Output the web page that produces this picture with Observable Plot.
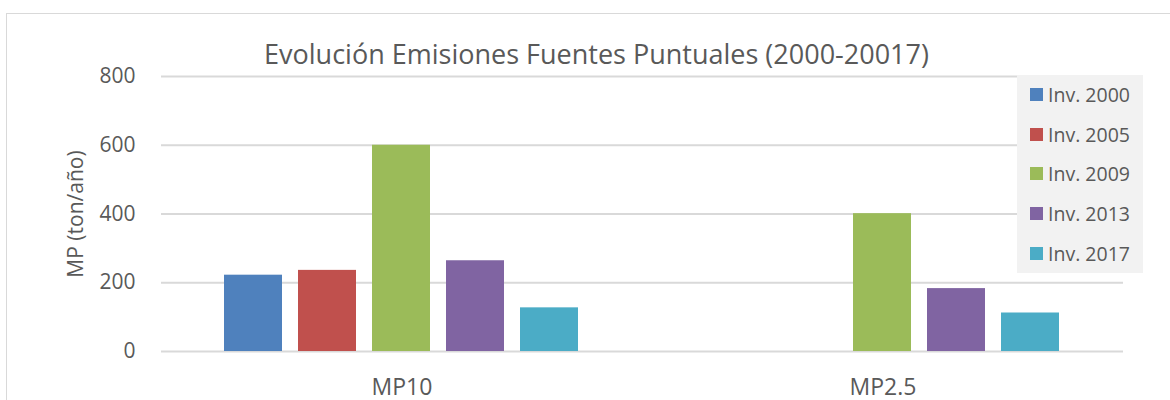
<!DOCTYPE html>
<html><head><meta charset="utf-8">
<script src="https://cdn.jsdelivr.net/npm/d3@7"></script>
<script src="https://cdn.jsdelivr.net/npm/@observablehq/plot@0.6"></script>
<style>
body{margin:0;background:#fff;font-family:"Open Sans",sans-serif;}
#wrap{position:relative;width:1170px;height:400px;overflow:hidden;background:#fff;}
#frame{position:absolute;left:6px;top:13px;width:1300px;height:600px;border:1.5px solid #d9d9d9;box-sizing:border-box;}
#chart{position:absolute;left:0;top:0;}
#title{position:absolute;left:0;width:1193px;top:39px;line-height:30px;text-align:center;font-size:27px;color:#595959;white-space:nowrap;}
#legend{position:absolute;left:1017px;top:75px;width:126px;height:198px;background:#f2f2f2;}
.row{height:39.6px;display:flex;align-items:center;font-size:19.5px;color:#595959;white-space:nowrap;}
.sw{width:13px;height:13px;margin-left:13px;margin-right:5px;flex:none;}
</style></head>
<body>
<div id="wrap">
  <div id="frame"></div>
  <div id="chart"></div>
  <div id="title"></div>
  <div id="legend"></div>
</div>
<script>
const titleText = "Evolución Emisiones Fuentes Puntuales (2000-20017)";
const yTitle = "MP (ton/año)";
const categories = ["MP10", "MP2.5"];
const series = ["Inv. 2000", "Inv. 2005", "Inv. 2009", "Inv. 2013", "Inv. 2017"];
const mp10 = [222, 236, 600, 264, 127];
const mp25 = [null, null, 401, 183, 112];
const colors = ["#4f81bd", "#c0504d", "#9bbb59", "#8064a2", "#4bacc6"];
const yTicks = [0, 200, 400, 600, 800];

const values = [mp10, mp25];
const data = [];
categories.forEach((c, i) => series.forEach((s, j) => {
  if (values[i][j] != null) data.push({cat: c, series: s, value: values[i][j]});
}));

const chart = Plot.plot({
  width: 1170, height: 400,
  marginLeft: 161, marginRight: 47, marginTop: 76, marginBottom: 49,
  style: {fontFamily: "Open Sans", fontSize: "21px", color: "#595959", background: "transparent"},
  fx: {domain: categories, padding: 0, label: null},
  x: {domain: series, paddingInner: 0.216, paddingOuter: 0.858, axis: null},
  y: {domain: [0, 800], label: null},
  color: {domain: series, range: colors},
  marks: [
    Plot.gridY(yTicks, {stroke: "#d9d9d9", strokeOpacity: 1, strokeWidth: 2}),
    Plot.barY(data, {fx: "cat", x: "series", y: "value", fill: "series"}),
    Plot.axisY(yTicks, {tickSize: 0, tickPadding: 26, fontSize: 21, label: yTitle, labelAnchor: "center", labelArrow: "none", labelOffset: 93}),
    Plot.axisFx({anchor: "bottom", tickSize: 0, tickPadding: 27, fontSize: 23, label: null})
  ]
});
document.getElementById("chart").appendChild(chart);
document.getElementById("title").textContent = titleText;
const legend = document.getElementById("legend");
series.forEach((s, i) => {
  const row = document.createElement("div");
  row.className = "row";
  const sw = document.createElement("span");
  sw.className = "sw";
  sw.style.background = colors[i];
  const t = document.createElement("span");
  t.textContent = s;
  row.appendChild(sw); row.appendChild(t);
  legend.appendChild(row);
});
</script>
</body></html>
